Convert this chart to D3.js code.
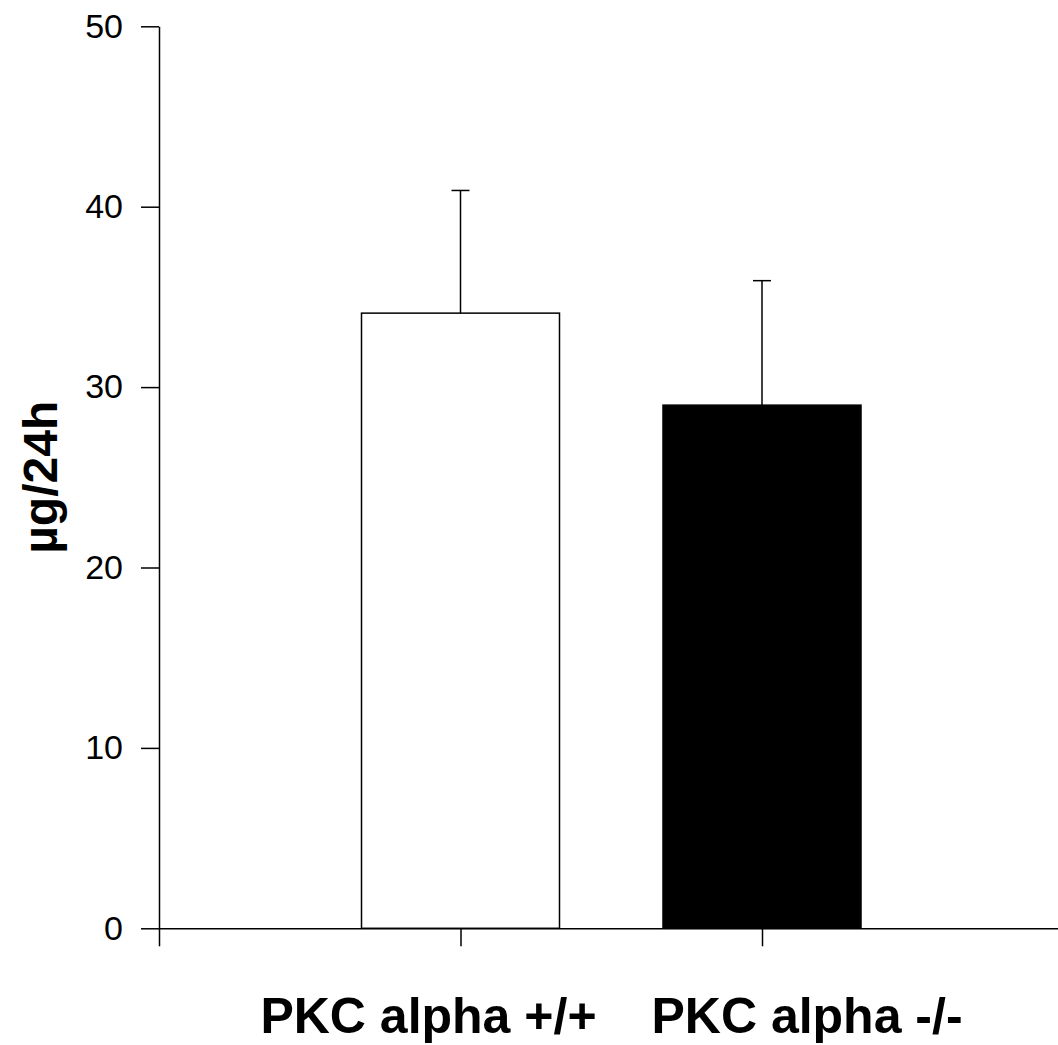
<!DOCTYPE html>
<html><head><meta charset="utf-8">
<script src="https://cdn.jsdelivr.net/npm/d3@7"></script>
<style>body{margin:0;background:#fff}svg{display:block}</style>
</head><body>
<svg id="c" width="1058" height="1045"></svg>
<script>
const categories = ["PKC alpha +/+", "PKC alpha -/-"];
const means = [34.1, 29.0];
const errors = [6.8, 6.9];
const fills = ["#ffffff", "#000000"];
const yTicks = [0, 10, 20, 30, 40, 50];
const yLabel = "µg/24h";

const svg = d3.select("#c");
const x = d3.scaleLinear().domain([0, 3]).range([159, 1063.5]);
const y = d3.scaleLinear().domain([0, 50]).range([928.3, 26.3]);
const barW = 198;
const font = "Liberation Sans, Arial, sans-serif";

// bars
svg.selectAll("rect.bar").data(means).join("rect")
  .attr("x", (d, i) => x(i + 1) - barW / 2)
  .attr("y", d => y(d))
  .attr("width", barW)
  .attr("height", d => y(0) - y(d))
  .attr("fill", (d, i) => fills[i])
  .attr("stroke", "#000").attr("stroke-width", 1.5);

// error bars
const eb = svg.selectAll("g.err").data(means).join("g");
eb.append("line")
  .attr("x1", (d, i) => x(i + 1)).attr("x2", (d, i) => x(i + 1))
  .attr("y1", d => y(d)).attr("y2", (d, i) => y(d + errors[i]))
  .attr("stroke", "#000").attr("stroke-width", 1.5);
eb.append("line")
  .attr("x1", (d, i) => x(i + 1) - 9).attr("x2", (d, i) => x(i + 1) + 9)
  .attr("y1", (d, i) => y(d + errors[i])).attr("y2", (d, i) => y(d + errors[i]))
  .attr("stroke", "#000").attr("stroke-width", 1.5);

// y axis
const ya = svg.append("g").attr("transform", `translate(${x(0)},0)`)
  .call(d3.axisLeft(y).tickValues(yTicks).tickSize(18).tickSizeOuter(0).tickPadding(18));
ya.selectAll("text").attr("font-family", font).attr("font-size", 34).attr("fill", "#000");
ya.selectAll("line,path").attr("stroke", "#000").attr("stroke-width", 1.5);

// x axis
const xa = svg.append("g").attr("transform", `translate(0,${y(0)})`)
  .call(d3.axisBottom(x).tickValues([0, 1, 2]).tickSize(18).tickSizeOuter(0).tickFormat(""));
xa.selectAll("line,path").attr("stroke", "#000").attr("stroke-width", 1.5);

// category labels
const offs = [-32, 45];
svg.selectAll("text.cat").data(categories).join("text")
  .attr("x", (d, i) => x(i + 1) + offs[i])
  .attr("y", 1033)
  .attr("text-anchor", "middle")
  .attr("font-family", font).attr("font-size", 50).attr("font-weight", "bold")
  .text(d => d);

// y label
svg.append("text")
  .attr("transform", `translate(57,${(y(0) + y(50)) / 2}) rotate(-90)`)
  .attr("text-anchor", "middle")
  .attr("font-family", font).attr("font-size", 48).attr("font-weight", "bold")
  .text(yLabel);
</script>
</body></html>
